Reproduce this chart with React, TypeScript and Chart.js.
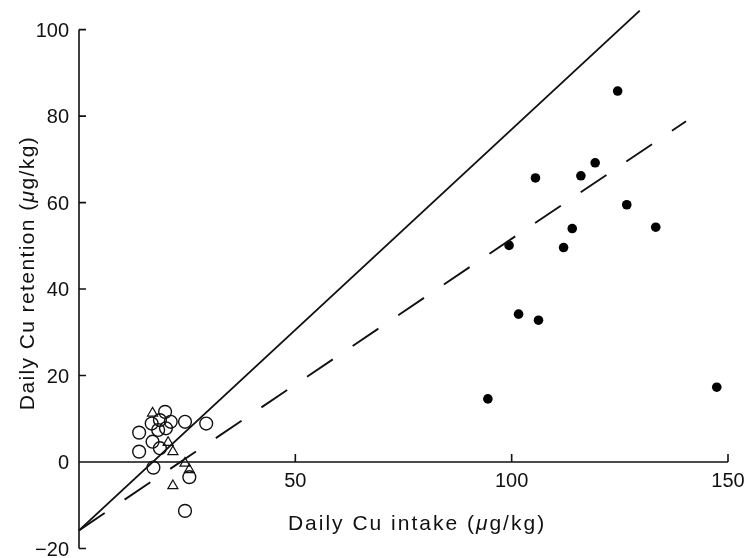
import React, { useEffect, useRef } from "react";
import { Chart, registerables } from "chart.js";

Chart.register(...registerables);

// Filled circles (high intake group)
const filledX = [94.5, 99.4, 101.6, 105.5, 106.2, 112.0, 114.0, 116.0, 119.3, 124.5, 126.6, 133.3, 147.4];
const filledY = [14.6, 50.1, 34.2, 65.7, 32.8, 49.6, 54.0, 66.2, 69.2, 85.8, 59.5, 54.3, 17.3];

// Open circles
const openX = [13.9, 13.9, 17.0, 18.7, 16.8, 19.9, 21.2, 18.3, 20.1, 18.7, 24.5, 29.4, 17.2, 25.5, 24.5];
const openY = [6.8, 2.4, 4.7, 3.2, 8.9, 11.6, 9.3, 7.4, 7.8, 9.7, 9.3, 8.9, -1.3, -3.5, -11.3];

// Open triangles
const triX = [17.0, 20.6, 21.7, 24.5, 25.5, 21.7];
const triY = [11.3, 4.5, 2.4, -0.3, -1.8, -5.5];

// Solid line and dashed regression line endpoints
const solidX = [0, 129.6];
const solidY = [-15.8, 104.4];
const dashedX = [0, 140.3];
const dashedY = [-15.8, 78.8];

// Axis ticks
const xTicks = [50, 100, 150];
const yTicks = [-20, 0, 20, 40, 60, 80, 100];
const xTitle: [string, boolean][] = [["Daily Cu intake (", false], ["\u03bc", true], ["g/kg)", false]];
const yTitle: [string, boolean][] = [["Daily Cu retention (", false], ["\u03bc", true], ["g/kg)", false]];

const FONT = "'Liberation Sans', Arial, Helvetica, sans-serif";

function pts(xs: number[], ys: number[]) {
  return xs.map((x, i) => ({ x, y: ys[i] }));
}

function drawMixed(
  ctx: CanvasRenderingContext2D,
  parts: [string, boolean][],
  cx: number,
  baseY: number,
  size: number,
  spacing: number
) {
  (ctx as any).letterSpacing = `${spacing}px`;
  let total = 0;
  for (const [t, it] of parts) {
    ctx.font = `${it ? "italic " : ""}${size}px ${FONT}`;
    total += ctx.measureText(t).width;
  }
  let x = cx - total / 2;
  ctx.textAlign = "left";
  ctx.textBaseline = "alphabetic";
  for (const [t, it] of parts) {
    ctx.font = `${it ? "italic " : ""}${size}px ${FONT}`;
    ctx.fillText(t, x, baseY);
    x += ctx.measureText(t).width;
  }
  (ctx as any).letterSpacing = "0px";
}

const axesPlugin = {
  id: "customAxes",
  beforeDatasetsDraw(chart: any) {
    const ctx: CanvasRenderingContext2D = chart.ctx;
    const xs = chart.scales.x;
    const ys = chart.scales.y;
    const x0 = xs.getPixelForValue(0);
    const y0 = ys.getPixelForValue(0);
    ctx.save();
    ctx.strokeStyle = "#111";
    ctx.lineWidth = 1.6;
    ctx.lineCap = "butt";
    ctx.beginPath();
    ctx.moveTo(x0, ys.getPixelForValue(yTicks[0]));
    ctx.lineTo(x0, ys.getPixelForValue(yTicks[yTicks.length - 1]));
    for (const t of yTicks) {
      const p = ys.getPixelForValue(t);
      ctx.moveTo(x0, p);
      ctx.lineTo(x0 + 7, p);
    }
    ctx.moveTo(x0, y0);
    ctx.lineTo(xs.getPixelForValue(xTicks[xTicks.length - 1]), y0);
    for (const t of xTicks) {
      const p = xs.getPixelForValue(t);
      ctx.moveTo(p, y0);
      ctx.lineTo(p, y0 - 8);
    }
    ctx.stroke();
    ctx.restore();
  },
  afterDraw(chart: any) {
    const ctx: CanvasRenderingContext2D = chart.ctx;
    const xs = chart.scales.x;
    const ys = chart.scales.y;
    const x0 = xs.getPixelForValue(0);
    const y0 = ys.getPixelForValue(0);
    ctx.save();
    ctx.fillStyle = "#111";
    ctx.font = `20px ${FONT}`;
    ctx.textAlign = "right";
    ctx.textBaseline = "alphabetic";
    for (const t of yTicks) {
      const label = t < 0 ? "\u2212" + Math.abs(t) : String(t);
      ctx.fillText(label, x0 - 10, ys.getPixelForValue(t) + 7);
    }
    ctx.textAlign = "center";
    for (const t of xTicks) {
      ctx.fillText(String(t), xs.getPixelForValue(t), y0 + 25);
    }
    drawMixed(ctx, xTitle, 417, 530, 21, 2);
    ctx.translate(33.5, 273);
    ctx.rotate(-Math.PI / 2);
    drawMixed(ctx, yTitle, 0, 0, 21, 1.4);
    ctx.restore();
  },
};

export default function App() {
  const ref = useRef<HTMLCanvasElement | null>(null);
  useEffect(() => {
    document.body.style.margin = "0";
    const canvas = ref.current;
    if (!canvas) return;
    const chart = new Chart(canvas, {
      type: "scatter",
      data: {
        datasets: [
          {
            type: "line",
            label: "solid",
            data: pts(solidX, solidY),
            borderColor: "#111",
            borderWidth: 1.9,
            pointRadius: 0,
            fill: false,
            clip: false as any,
          },
          {
            type: "line",
            label: "dashed",
            data: pts(dashedX, dashedY),
            borderColor: "#111",
            borderWidth: 1.9,
            borderDash: [31, 24],
            pointRadius: 0,
            fill: false,
            clip: false as any,
          },
          {
            label: "filled",
            data: pts(filledX, filledY),
            pointStyle: "circle",
            pointRadius: 4.8,
            backgroundColor: "#000",
            borderColor: "#000",
            borderWidth: 0,
          },
          {
            label: "open",
            data: pts(openX, openY),
            pointStyle: "circle",
            pointRadius: 6.4,
            backgroundColor: "rgba(0,0,0,0)",
            borderColor: "#111",
            borderWidth: 1.4,
          },
          {
            label: "triangle",
            data: pts(triX, triY),
            pointStyle: "triangle",
            pointRadius: 5.8,
            backgroundColor: "rgba(0,0,0,0)",
            borderColor: "#111",
            borderWidth: 1.2,
          },
        ],
      },
      options: {
        responsive: false,
        animation: false,
        devicePixelRatio: 1,
        layout: { padding: { left: 79, right: 20, top: 8, bottom: 9.5 } },
        plugins: { legend: { display: false }, tooltip: { enabled: false } },
        scales: {
          x: { type: "linear", min: 0, max: 150, display: false },
          y: { type: "linear", min: -20, max: 105, display: false },
        },
      },
      plugins: [axesPlugin],
    });
    return () => chart.destroy();
  }, []);
  return (
    <div style={{ width: 748, height: 558, background: "#fff" }}>
      <canvas ref={ref} width={748} height={558} style={{ display: "block" }} />
    </div>
  );
}
